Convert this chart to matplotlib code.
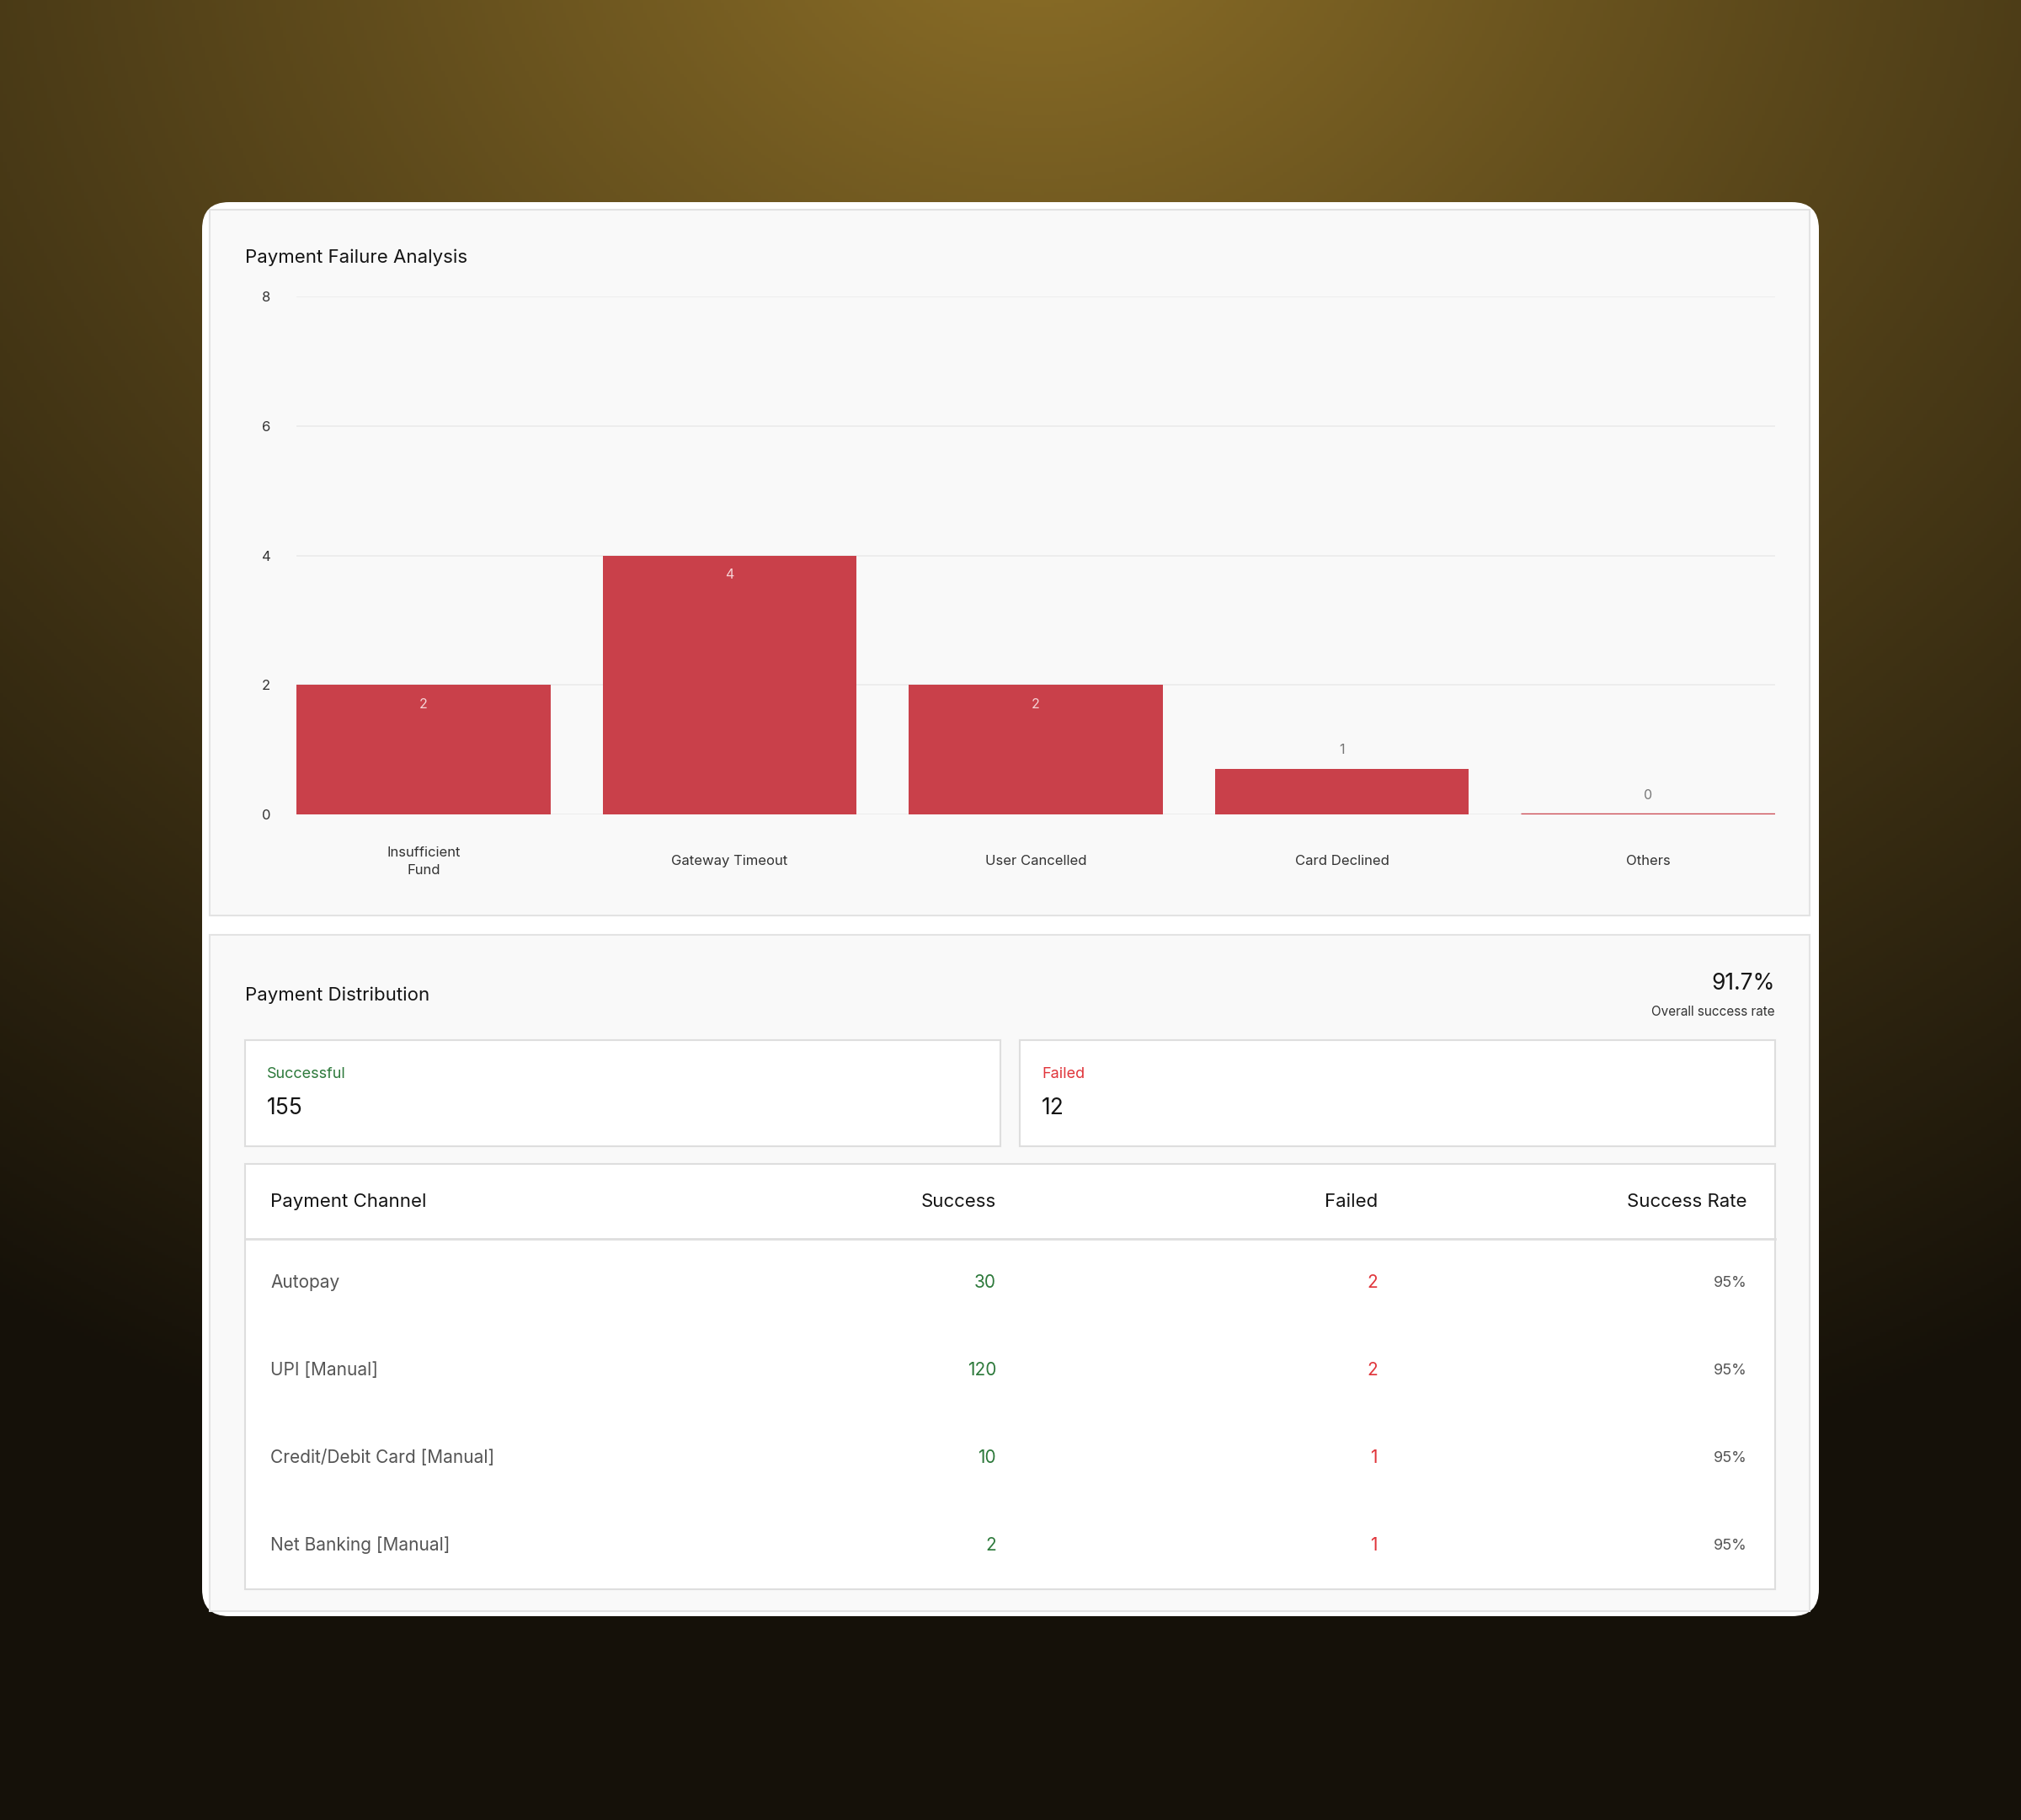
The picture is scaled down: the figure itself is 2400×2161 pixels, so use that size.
import numpy as np
import matplotlib.pyplot as plt
from matplotlib.patches import FancyBboxPatch, Rectangle

plt.rcParams['font.family'] = ['Inter', 'DejaVu Sans']

# failure analysis data
reasons = ["Insufficient\nFund", "Gateway Timeout", "User Cancelled", "Card Declined", "Others"]
failure_counts = [2, 4, 2, 1, 0]
bar_heights = [2, 4, 2, 0.7, 0]  # heights as drawn in the reference
y_ticks = [0, 2, 4, 6, 8]

# distribution data
total_success = 155
total_failed = 12
overall_rate = "91.7%"

table_headers = ["Payment Channel", "Success", "Failed", "Success Rate"]
channels = ["Autopay", "UPI [Manual]", "Credit/Debit Card [Manual]", "Net Banking [Manual]"]
channel_success = [30, 120, 10, 2]
channel_failed = [2, 2, 1, 1]
channel_rate = ["95%", "95%", "95%", "95%"]

BAR_RED = '#c9404a'
GREEN = '#2e7a3c'
RED = '#e0353b'
GRAY = '#555555'
DARK = '#151515'

W, H = 2400, 2161
fig = plt.figure(figsize=(W / 100, H / 100), dpi=100)

# background glow
bg = fig.add_axes([0, 0, 1, 1], zorder=0)
yy, xx = np.mgrid[0:H:4, 0:W:4]
d = np.sqrt(((xx - 1230) / 1.15) ** 2 + (yy + 150) ** 2) / 2000
t = np.clip(d, 0, 1) ** 0.9
gold = np.array([0.57, 0.45, 0.16])
dark = np.array([0.085, 0.068, 0.036])
img = gold * (1 - t[..., None]) + dark * t[..., None]
bg.imshow(img, extent=[0, W, H, 0], aspect='auto', zorder=0)
bg.set_xlim(0, W)
bg.set_ylim(H, 0)
bg.axis('off')

# card and panels
bg.add_patch(FancyBboxPatch((240, 240), 1920, 1679, boxstyle="round,pad=0,rounding_size=32",
                            fc='white', ec='none', zorder=1))
bg.add_patch(Rectangle((249, 249), 1900, 838, fc='#f9f9f9', ec='#e3e3e3', lw=1.5, zorder=2))
bg.add_patch(Rectangle((249, 1110), 1900, 803, fc='#f9f9f9', ec='#e3e3e3', lw=1.5, zorder=2))

bg.text(291, 306, "Payment Failure Analysis", fontsize=16, color=DARK, va='center', zorder=3)

# bar chart
ax = fig.add_axes([352 / W, 1 - 967 / H, (2108 - 352) / W, (967 - 352) / H], zorder=2)
ax.set_facecolor('none')
x = np.arange(len(reasons))
lws = [2.5 if h == 0 else 0 for h in bar_heights]
ax.bar(x, bar_heights, width=0.83, color=BAR_RED, edgecolor=BAR_RED, linewidth=lws, zorder=3)
ax.set_xlim(-0.415, len(reasons) - 0.585)
ax.set_ylim(0, 8)
ax.set_yticks(y_ticks)
ax.set_yticklabels([str(v) for v in y_ticks], fontsize=12, color='#333333')
ax.tick_params(axis='y', length=0, pad=22)
ax.set_xticks(x)
ax.set_xticklabels(reasons, fontsize=12, color='#333333', linespacing=1.5)
ax.tick_params(axis='x', length=0, pad=40)
for lab in ax.get_xticklabels():
    lab.set_va('center')
ax.yaxis.grid(True, color='#ebebeb', linewidth=1.2, zorder=0)
for s in ax.spines.values():
    s.set_visible(False)

for xi, h, c in zip(x, bar_heights, failure_counts):
    if h > 1:
        ax.annotate(str(c), (xi, h), xytext=(0, -16.5), textcoords='offset points',
                    ha='center', va='center', fontsize=11.5, color='#f6d4d6', zorder=4)
    else:
        ax.annotate(str(c), (xi, h), xytext=(0, 16.5), textcoords='offset points',
                    ha='center', va='center', fontsize=11.5, color='#777777', zorder=4)

# distribution panel
bg.text(291, 1182, "Payment Distribution", fontsize=16, color=DARK, va='center', zorder=3)
bg.text(2108, 1168, overall_rate, fontsize=19, color=DARK, va='center', ha='right', zorder=3)
bg.text(2108, 1202, "Overall success rate", fontsize=11, color='#333333', va='center', ha='right', zorder=3)

bg.add_patch(Rectangle((291, 1235), 897, 126, fc='white', ec='#dedede', lw=1.5, zorder=3))
bg.add_patch(Rectangle((1211, 1235), 897, 126, fc='white', ec='#dedede', lw=1.5, zorder=3))
bg.text(317, 1275, "Successful", fontsize=13, color=GREEN, va='center', zorder=4)
bg.text(317, 1316, str(total_success), fontsize=19, color=DARK, va='center', zorder=4)
bg.text(1237, 1275, "Failed", fontsize=13, color=RED, va='center', zorder=4)
bg.text(1237, 1316, str(total_failed), fontsize=19, color=DARK, va='center', zorder=4)

# table
bg.add_patch(Rectangle((291, 1382), 1817, 505, fc='white', ec='#dedede', lw=1.5, zorder=3))
bg.plot([291, 2108], [1471, 1471], color='#dedede', lw=2, zorder=4)
col_x = [321, 1183, 1636, 2075]
col_ha = ['left', 'right', 'right', 'right']
for cx, ha, head in zip(col_x, col_ha, table_headers):
    bg.text(cx, 1427, head, fontsize=16, color=DARK, va='center', ha=ha, zorder=4)

row_y = [1523, 1627, 1731, 1835]
for ry, name, s, f, r in zip(row_y, channels, channel_success, channel_failed, channel_rate):
    bg.text(col_x[0], ry, name, fontsize=15, color=GRAY, va='center', ha='left', zorder=4)
    bg.text(col_x[1], ry, str(s), fontsize=15, color=GREEN, va='center', ha='right', zorder=4)
    bg.text(col_x[2], ry, str(f), fontsize=15, color=RED, va='center', ha='right', zorder=4)
    bg.text(col_x[3], ry, r, fontsize=13, color=GRAY, va='center', ha='right', zorder=4)

fig.savefig('out.png', dpi=100)
